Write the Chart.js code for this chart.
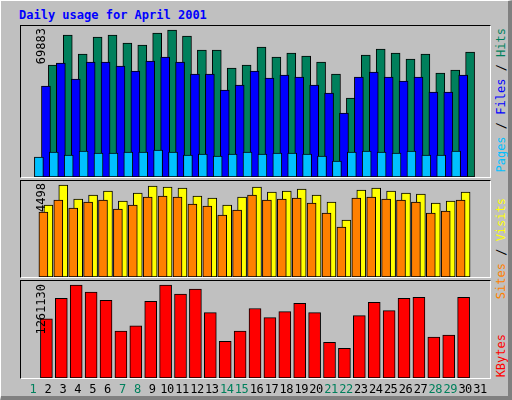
<!DOCTYPE html>
<html><head><meta charset="utf-8">
<script src="https://cdn.jsdelivr.net/npm/chart.js@4"></script>
<style>
body{margin:0;width:512px;height:400px;overflow:hidden;background:#c0c0c0;font-family:"DejaVu Sans Mono",monospace;}
#frame{position:absolute;left:0;top:0;width:507px;height:395px;border-top:1px solid #fff;border-left:1px solid #fff;border-right:5px solid #808080;border-bottom:5px solid #808080;box-sizing:content-box;}
.panel{position:absolute;left:20px;width:469px;border-top:1px solid #000;border-left:1px solid #000;border-right:1px solid #fff;border-bottom:1px solid #fff;}
.panel canvas{display:block;}
.vt{position:absolute;writing-mode:vertical-rl;transform:rotate(180deg);font-size:12px;line-height:12px;white-space:nowrap;}
.xl{position:absolute;top:382px;font-size:12px;transform:translateX(-50%);letter-spacing:-0.5px;}
#title{position:absolute;left:19px;top:8px;font-size:12px;font-weight:bold;color:#0000ff;}
</style></head><body>
<div id="frame"></div>
<div id="title">Daily usage for April 2001</div>
<div class="panel" style="top:25px;height:151px"><canvas id="c1" width="469" height="151"></canvas></div>
<div class="panel" style="top:180px;height:96px"><canvas id="c2" width="469" height="96"></canvas></div>
<div class="panel" style="top:280px;height:97px"><canvas id="c3" width="469" height="97"></canvas></div>
<div class="vt" style="left:35px;top:28px">69883</div>
<div class="vt" style="left:35px;top:183px">4498</div>
<div class="vt" style="left:35px;top:284px">1261130</div>
<div class="vt" style="left:495px;top:28px"><span style="color:#00c0ff">Pages</span> / <span style="color:#0000ff">Files</span> / <span style="color:#00805c">Hits</span></div>
<div class="vt" style="left:495px;top:198px"><span style="color:#ff8000">Sites</span> / <span style="color:#ffff00">Visits</span></div>
<div class="vt" style="left:495px;top:334px;color:#ff0000">KBytes</div>
<div id="xlabels"></div>
<script>
const days=[2,3,4,5,6,7,8,9,10,11,12,13,14,15,16,17,18,19,20,21,22,23,24,25,26,27,28,29,30];
const hits=[53245,67507,58474,66556,67507,63704,62753,68458,69883,67031,60376,60376,51819,53245,61802,57048,58950,57523,54671,48966,37557,57999,60851,58950,56097,58474,49442,50868,59425];
const files=[43261,54196,46589,54671,54671,52769,50392,55146,57048,54671,48966,48966,41360,43737,50392,47065,48491,47540,43737,39934,30426,47540,49917,47540,45638,47540,40409,40409,48491];
const pages=[9508,11885,10459,12360,11410,11410,11885,11885,12836,11885,10459,10934,9983,10934,11885,10934,11410,11410,10934,9983,7606,11885,12360,11885,11410,12360,10459,10459,12360];
const visits=[3520,4498,3813,4009,4205,3716,4107,4449,4400,4351,3960,3862,3520,3911,4400,4156,4205,4302,4009,3667,2787,4254,4351,4205,4107,4058,3618,3716,4156];
const sites=[3178,3765,3373,3667,3765,3325,3520,3911,3960,3911,3569,3471,3031,3276,4009,3765,3813,3862,3618,3129,2445,3862,3911,3813,3765,3667,3129,3227,3765];
const kbytes=[803793,1080963,1261130,1164114,1053246,637491,706784,1039388,1261130,1136397,1205690,886944,498906,637491,942378,817652,900803,1011671,886944,485048,401897,845369,1025529,914661,1080963,1094822,554340,582057,1094822];
const xLabels=["1","2","3","4","5","6","7","8","9","10","11","12","13","14","15","16","17","18","19","20","21","22","23","24","25","26","27","28","29","30","31"];
const weekend=["1","7","8","14","15","21","22","28","29"];
const XMIN=0.195, XMAX=31.67;

function ds(vals,color,off,order,w){
  return {data:vals.map((v,i)=>({x:days[i]+off,y:v})),backgroundColor:color,borderColor:'#000',borderWidth:1,borderSkipped:false,barThickness:w,order:order};
}
function mk(id,datasets,ymax){
  return new Chart(document.getElementById(id),{type:'bar',data:{datasets},
    options:{responsive:false,animation:false,layout:{padding:0},
      plugins:{legend:{display:false},tooltip:{enabled:false}},
      scales:{x:{type:'linear',offset:false,min:XMIN,max:XMAX,display:false},
              y:{min:0,max:ymax,display:false}}}});
}
mk('c1',[ds(hits,'#00805c',-0.27,3,9),ds(files,'#0000ff',-0.13,2,9),ds(pages,'#00c0ff',0,1,9)],69883*151/147);
mk('c2',[ds(visits,'#ffff00',-0.27,2,9),ds(sites,'#ff8000',0,1,9)],4498*96/92);
const c3=mk('c3',[ds(kbytes,'#ff0000',-0.1,1,12)],1261130*97/93);
const xl=document.getElementById('xlabels');
xLabels.forEach(l=>{
  const s=document.createElement('span');s.className='xl';s.textContent=l;
  s.style.left=(21+c3.scales.x.getPixelForValue(+l))+'px';
  s.style.color=weekend.includes(l)?'#00805c':'#000';
  xl.appendChild(s);
});
</script>
</body></html>
